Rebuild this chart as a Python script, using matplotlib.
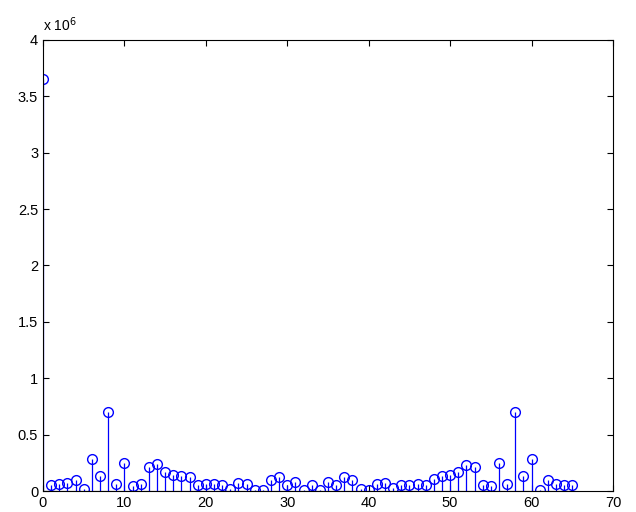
import matplotlib
matplotlib.use('Agg')
import matplotlib.pyplot as plt
from matplotlib.ticker import FuncFormatter

# stem values, index 0..65
n = list(range(66))
vals = [3.65e6, 0.05e6, 0.06e6, 0.07e6, 0.10e6, 0.02e6, 0.28e6, 0.13e6, 0.70e6, 0.06e6,
        0.25e6, 0.04e6, 0.06e6, 0.21e6, 0.24e6, 0.17e6, 0.14e6, 0.13e6, 0.12e6, 0.05e6,
        0.06e6, 0.06e6, 0.05e6, 0.02e6, 0.07e6, 0.06e6, 0.01e6, 0.01e6, 0.10e6, 0.12e6,
        0.05e6, 0.08e6, 0.01e6, 0.05e6, 0.01e6, 0.08e6, 0.05e6, 0.12e6, 0.10e6, 0.02e6,
        0.01e6, 0.06e6, 0.07e6, 0.03e6, 0.05e6, 0.05e6, 0.06e6, 0.05e6, 0.11e6, 0.13e6,
        0.14e6, 0.17e6, 0.23e6, 0.21e6, 0.05e6, 0.04e6, 0.25e6, 0.06e6, 0.70e6, 0.13e6,
        0.28e6, 0.01e6, 0.10e6, 0.06e6, 0.05e6, 0.05e6]

x_ticks = [0, 10, 20, 30, 40, 50, 60, 70]
y_ticks = [0, 0.5e6, 1e6, 1.5e6, 2e6, 2.5e6, 3e6, 3.5e6, 4e6]

plt.rcParams['font.family'] = ['Liberation Sans', 'DejaVu Sans']

fig = plt.figure(figsize=(6.36, 5.12), dpi=100)
ax = fig.add_axes([0.0676, 0.041, 0.8962, 0.881])

markerline, stemlines, baseline = ax.stem(n, vals, linefmt='b-', markerfmt='bo', basefmt='k-')
markerline.set_markerfacecolor('none')
markerline.set_markersize(7)
markerline.set_markeredgewidth(1.0)
stemlines.set_linewidth(0.9)
baseline.set_linewidth(0.8)

ax.set_xlim(0, 70)
ax.set_ylim(0, 4e6)
ax.set_xticks(x_ticks)
ax.set_yticks(y_ticks)
ax.yaxis.set_major_formatter(FuncFormatter(lambda v, p: ('%g' % (v / 1e6))))
ax.tick_params(direction='in', top=True, right=True, labelsize=10.5, length=4)
for s in ax.spines.values():
    s.set_linewidth(0.8)

fig.text(0.068, 0.933, r'x 10$^{6}$', fontsize=10, ha='left', va='bottom')

fig.savefig('out.png', dpi=100)
